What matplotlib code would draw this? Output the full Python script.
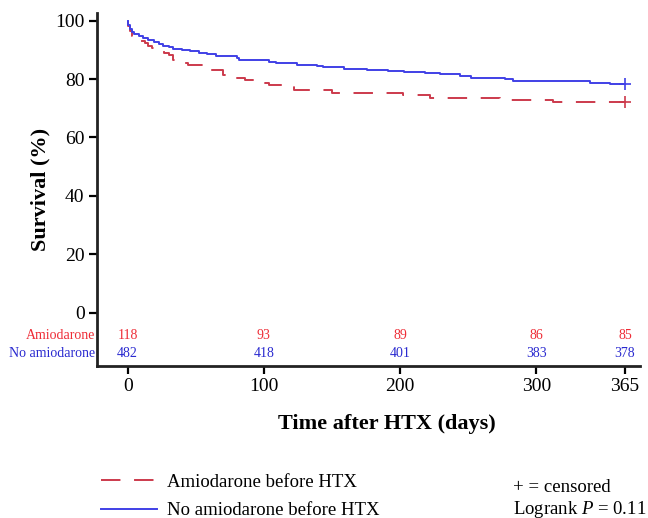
import matplotlib
matplotlib.use("Agg")
import matplotlib.pyplot as plt
import numpy as np

plt.rcParams['font.family'] = ['Liberation Serif', 'DejaVu Serif']
plt.rcParams['mathtext.fontset'] = 'custom'
plt.rcParams['mathtext.rm'] = 'Liberation Serif'
plt.rcParams['mathtext.it'] = 'Liberation Serif:italic'

# Kaplan-Meier step data (day, survival %)
amio_days = [0, 0.5, 2, 3.5, 5, 13, 15, 18, 25, 27, 30, 33, 41, 44, 55, 61, 70, 73,
             86, 101, 104, 122, 150, 202, 222, 273, 312, 365]
amio_surv = [100, 98.3, 96.6, 94.9, 93.2, 92.4, 91.5, 90.7, 89.8, 89.0, 88.1, 86.4, 85.6,
             84.7, 83.9, 83.1, 81.4, 80.5, 79.7, 78.8, 78.0, 76.3, 75.4, 74.6, 73.7, 72.9,
             72.0, 72.0]

noamio_days = [0, 0.5, 1.5, 3, 5, 8, 11, 15, 19, 23, 26, 30, 33, 40, 46, 52, 58, 65, 80,
               82, 104, 109, 124, 139, 143, 147, 159, 176, 191, 203, 218, 229, 244, 252,
               277, 283, 305, 339, 354, 365]
noamio_surv = [100, 98.5, 97.3, 96.3, 95.5, 94.8, 94.0, 93.3, 92.6, 92.0, 91.5, 90.9, 90.3,
               90.1, 89.6, 89.1, 88.6, 87.8, 87.2, 86.6, 86.0, 85.5, 85.0, 84.6, 84.2, 84.0,
               83.5, 83.1, 82.7, 82.3, 82.0, 81.8, 81.0, 80.4, 80.0, 79.5, 79.2, 78.8, 78.4,
               78.4]

# Numbers at risk
risk_days = [0, 100, 200, 300, 365]
risk_amio = [118, 93, 89, 86, 85]
risk_noamio = [482, 418, 401, 383, 378]

xticks = [0, 100, 200, 300, 365]
yticks = [0, 20, 40, 60, 80, 100]

red = '#cc3a4c'
blue = '#4040e6'
red_txt = '#ee2c36'
blue_txt = '#2a2ad0'

fig = plt.figure(figsize=(6.48, 5.18), dpi=100)
ax = fig.add_axes([0.1497, 0.294, 0.838, 0.680])

l_red, = ax.step(amio_days, amio_surv, where='post', color=red, lw=1.4,
                 dashes=(10, 7), label='Amiodarone before HTX')
l_blue, = ax.step(noamio_days, noamio_surv, where='post', color=blue, lw=1.4,
                  label='No amiodarone before HTX')
ax.plot([amio_days[-1]], [amio_surv[-1]], marker='+', ms=9, mew=1.2, color=red, ls='none')
ax.plot([noamio_days[-1]], [noamio_surv[-1]], marker='+', ms=9, mew=1.2, color=blue, ls='none')

ax.set_xlim(-22.5, 376)
ax.set_ylim(-18.2, 102.5)
ax.set_xticks(xticks)
ax.set_yticks(yticks)
ax.tick_params(axis='both', labelsize=14, length=6, width=1.6, color='black', pad=3)
for s in ['top', 'right']:
    ax.spines[s].set_visible(False)
for s in ['left', 'bottom']:
    ax.spines[s].set_linewidth(2.0)
    ax.spines[s].set_color('#222222')

# risk table
for d, a, b in zip(risk_days, risk_amio, risk_noamio):
    ax.text(d, -8.0, str(a), color=red_txt, fontsize=10, ha='center', va='center')
    ax.text(d, -13.9, str(b), color=blue_txt, fontsize=10, ha='center', va='center')
trans = ax.get_yaxis_transform()
ax.text(-0.004, -8.0, 'Amiodarone', color=red_txt, fontsize=10, ha='right', va='center',
        transform=trans)
ax.text(-0.004, -13.9, 'No amiodarone', color=blue_txt, fontsize=10, ha='right', va='center',
        transform=trans)

ax.set_ylabel('Survival (%)', fontsize=16, fontweight='bold', labelpad=3.5)
fig.text(387 / 648, 1 - 424 / 518, 'Time after HTX (days)', fontsize=16, fontweight='bold',
         ha='center', va='center')

fig.legend(handles=[l_red, l_blue], loc='center left',
           bbox_to_anchor=(101 / 648, 1 - 496.5 / 518), frameon=False, fontsize=13.5,
           handlelength=3.0, handletextpad=0.5, labelspacing=0.62, borderpad=0,
           borderaxespad=0)

fig.text(513 / 648, 1 - 487 / 518, '+ = censored', fontsize=13.5, ha='left', va='center')
fig.text(513 / 648, 1 - 509 / 518, 'Logrank $P$ = 0.11', fontsize=13.5, ha='left', va='center')

fig.savefig('out.png', dpi=100)
